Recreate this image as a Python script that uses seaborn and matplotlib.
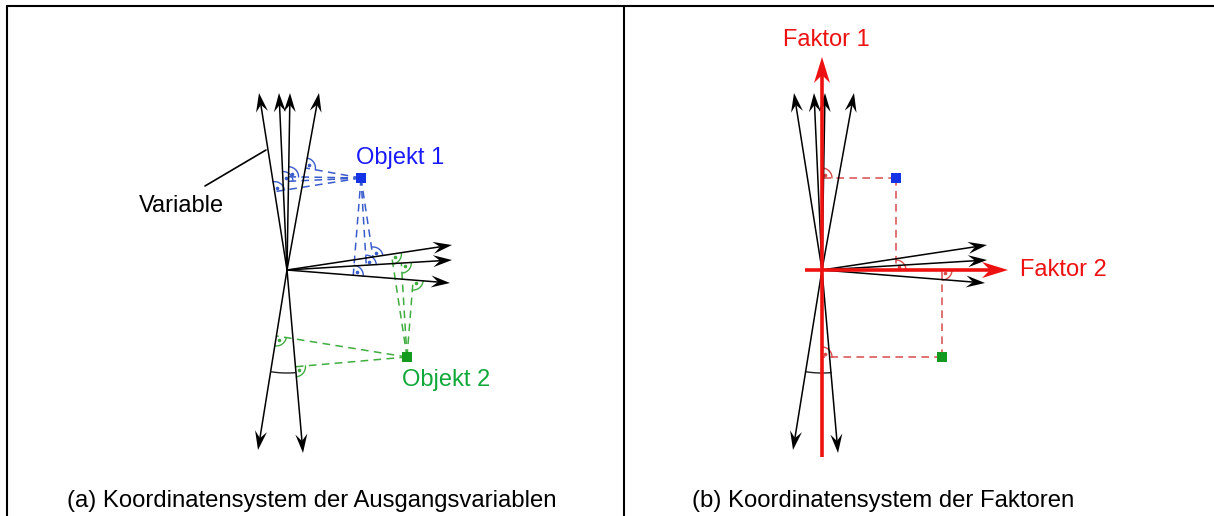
import numpy as np
import pandas as pd
import seaborn as sns
import matplotlib.pyplot as plt

# variable vectors, relative to the panel origin (pixel units, y up)
var_dx = [-28, -8, 3, 32, 165, 165, 163, -29, 16]
var_dy = [177, 177, 177, 177, 25, 10, -13, -180, -183]

# objects (same coordinates in both panels)
obj_names = ["Objekt 1", "Objekt 2"]
obj_x = [74, 120]
obj_y = [92, -87]
obj_colors = ["#1433e6", "#139a1f"]
label_colors = ["#1a1aff", "#11a83a"]
dash_colors = ["#3a5ccc", "#3fae3f"]
# which variables each object is projected onto in panel (a)
obj_targets = [[0, 1, 2, 3, 4, 5, 6], [4, 5, 6, 7, 8]]

# factor axes of panel (b)
factor_names = ["Faktor 1", "Faktor 2"]
factor_dx = [0, 186]
factor_dy = [213, 0]
factor_neg = [187, 17]

captions = ["(a) Koordinatensystem der Ausgangsvariablen",
            "(b) Koordinatensystem der Faktoren"]

origin_a = (287, 270)
origin_b = (822, 270)

sns.set_theme(style="white")
plt.rcParams['font.family'] = ['Liberation Sans', 'DejaVu Sans']

fig = plt.figure(figsize=(12.14, 5.16), dpi=100)
ax = fig.add_axes([0, 0, 1, 1])
ax.set_xlim(0, 1214)
ax.set_ylim(516, 0)
ax.axis("off")


def to_pix(origin, dx, dy):
    return np.array([origin[0] + dx, origin[1] - dy], dtype=float)


def arrow(origin, dx, dy, color="black", lw=1.1, L=19, W=6, notch=7, start=None):
    o = np.array(origin, dtype=float) if start is None else start
    tip = to_pix(origin, dx, dy)
    u = tip - np.array(origin, dtype=float)
    u /= np.linalg.norm(u)
    n = np.array([-u[1], u[0]])
    back = tip - (L - notch) * u
    ax.plot([o[0], back[0]], [o[1], back[1]], color=color, lw=lw,
            solid_capstyle="butt")
    poly = np.array([tip, tip - L * u + W * n, back, tip - L * u - W * n])
    ax.fill(poly[:, 0], poly[:, 1], color=color, lw=0)


def right_angle(foot, along, toward, color, r=10):
    a = along / np.linalg.norm(along)
    b = toward / np.linalg.norm(toward)
    t = np.linspace(0, np.pi / 2, 20)
    pts = foot[None, :] + r * (np.cos(t)[:, None] * a + np.sin(t)[:, None] * b)
    ax.plot(pts[:, 0], pts[:, 1], color=color, lw=1.0)
    d = foot + 4.5 * (a + b) / np.sqrt(2)
    ax.plot(d[0], d[1], "o", ms=1.6, color=color)


def projection(origin, vdx, vdy, px, py, color):
    u = np.array([vdx, vdy], dtype=float)
    u /= np.linalg.norm(u)
    p = np.array([px, py], dtype=float)
    f = p.dot(u) * u
    fp = to_pix(origin, f[0], f[1])
    pp = to_pix(origin, px, py)
    ax.plot([pp[0], fp[0]], [pp[1], fp[1]], color=color, lw=1.1,
            dashes=(5, 3.5))
    right_angle(fp, np.array([u[0], -u[1]]), pp - fp, color)


# ---- frame
ax.plot([7, 1214], [6, 6], color="black", lw=1.5)
ax.plot([7, 7], [6, 516], color="black", lw=1.5)
ax.plot([624, 624], [6, 516], color="black", lw=1.5)

# ---- panel (a)
for k in range(len(obj_names)):
    for i in obj_targets[k]:
        projection(origin_a, var_dx[i], var_dy[i], obj_x[k], obj_y[k], dash_colors[k])
for dx, dy in zip(var_dx, var_dy):
    arrow(origin_a, dx, dy)

# angle arc between the two downward vectors
for origin in (origin_a, origin_b):
    a1 = np.arctan2(var_dy[7], var_dx[7])
    a2 = np.arctan2(var_dy[8], var_dx[8])
    t = np.linspace(a1, a2, 30)
    ax.plot(origin[0] + 103 * np.cos(t), origin[1] - 103 * np.sin(t),
            color="#222222", lw=1.0)

ax.plot([205, 266], [186, 150], color="black", lw=1.2)
ax.text(181, 206, "Variable", ha="center", va="center", fontsize=17,
        color="black")

# ---- panel (b)
for k in range(len(obj_names)):
    for j in range(len(factor_names)):
        projection(origin_b, factor_dx[j], factor_dy[j], obj_x[k], obj_y[k], "#d94a4a")
for dx, dy in zip(var_dx, var_dy):
    arrow(origin_b, dx, dy)
for j in range(len(factor_names)):
    start = to_pix(origin_b, -np.sign(factor_dx[j]) * factor_neg[j],
                   -np.sign(factor_dy[j]) * factor_neg[j])
    arrow(origin_b, factor_dx[j], factor_dy[j], color="#ee1111", lw=2.6,
          L=26, W=8, notch=8, start=start)
ax.text(826, 40, factor_names[0], ha="center", va="center", fontsize=17,
        color="#ee1111")
ax.text(1020, 270, factor_names[1], ha="left", va="center", fontsize=17,
        color="#ee1111")

# ---- objects
rows = []
for origin in (origin_a, origin_b):
    for k, name in enumerate(obj_names):
        p = to_pix(origin, obj_x[k], obj_y[k])
        rows.append({"x": p[0], "y": p[1], "obj": name})
df = pd.DataFrame(rows)
sns.scatterplot(data=df, x="x", y="y", hue="obj", palette=dict(zip(obj_names, obj_colors)),
                marker="s", s=60, linewidth=0, legend=False, ax=ax, zorder=5)
ax.set_xlim(0, 1214)
ax.set_ylim(516, 0)
ax.axis("off")

ax.text(356, 158, obj_names[0], ha="left", va="center", fontsize=17,
        color=label_colors[0])
ax.text(402, 380, obj_names[1], ha="left", va="center", fontsize=17,
        color=label_colors[1])

# ---- captions
ax.text(67, 501, captions[0], ha="left", va="center", fontsize=17.2,
        color="black")
ax.text(692, 501, captions[1], ha="left", va="center", fontsize=17.2,
        color="black")

fig.savefig("out.png", dpi=100)
